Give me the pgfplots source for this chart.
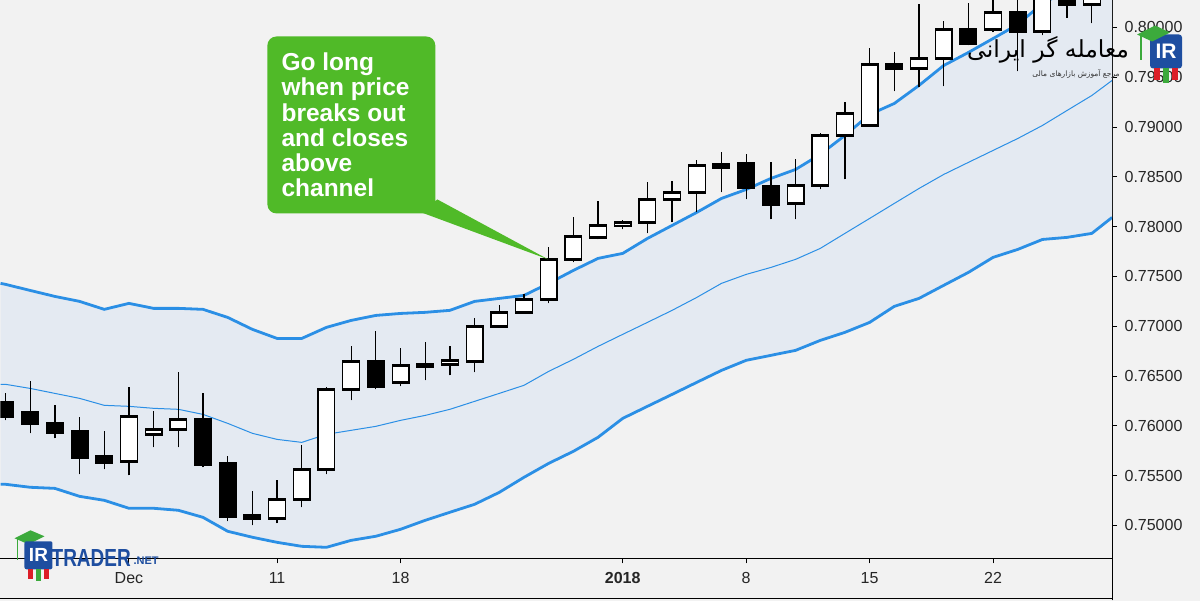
\documentclass[border=0pt]{standalone}
\usepackage{fontspec}
\setmainfont{Liberation Sans}
\newfontfamily\arabicfont[Script=Arabic]{DejaVu Sans}
\TeXXeTstate=1
\usepackage{pgfplots}
\pgfplotsset{compat=1.18}
\usepackage{pgfplotstable}
\usepgfplotslibrary{fillbetween}
\definecolor{bgc}{RGB}{242,242,242}
\definecolor{bandfill}{RGB}{228,234,242}
\definecolor{bandline}{RGB}{43,143,229}
\definecolor{callout}{RGB}{80,186,40}
\definecolor{irblue}{RGB}{30,78,160}
\definecolor{capgreen}{RGB}{60,170,60}
\definecolor{candred}{RGB}{220,30,40}
\pagecolor{bgc}

\pgfplotstableread{
x u m l
-0.2 0.77430 0.76416 0.75412
0 0.77420 0.76416 0.75412
1 0.77359 0.76375 0.75382
2 0.77299 0.76325 0.75371
3 0.77249 0.76275 0.75291
4 0.77169 0.76205 0.75251
5 0.77229 0.76195 0.75171
6 0.77179 0.76175 0.75171
7 0.77179 0.76165 0.75151
8 0.77169 0.76114 0.75080
9 0.77088 0.76024 0.74940
10 0.76968 0.75924 0.74880
11 0.76877 0.75863 0.74829
12 0.76877 0.75833 0.74789
13 0.76988 0.75914 0.74779
14 0.77058 0.75954 0.74849
15 0.77108 0.75994 0.74890
16 0.77128 0.76054 0.74960
17 0.77139 0.76104 0.75050
18 0.77159 0.76165 0.75131
19 0.77249 0.76245 0.75211
20 0.77279 0.76325 0.75331
21 0.77309 0.76406 0.75482
22 0.77430 0.76546 0.75622
23 0.77560 0.76667 0.75743
24 0.77681 0.76797 0.75884
25 0.77731 0.76918 0.76074
26 0.77881 0.77038 0.76195
27 0.78012 0.77159 0.76315
28 0.78143 0.77289 0.76436
29 0.78283 0.77430 0.76556
30 0.78373 0.77520 0.76657
31 0.78484 0.77590 0.76707
32 0.78574 0.77671 0.76757
33 0.78725 0.77781 0.76857
34 0.78916 0.77932 0.76938
35 0.79126 0.78082 0.77038
36 0.79237 0.78233 0.77199
37 0.79418 0.78383 0.77279
38 0.79618 0.78524 0.77410
39 0.79749 0.78645 0.77540
40 0.79889 0.78765 0.77691
41 0.80030 0.78885 0.77771
42 0.80241 0.79016 0.77871
43 0.80371 0.79167 0.77892
44 0.80492 0.79317 0.77932
44.82 0.80572 0.79468 0.78092
}\bands

% candles: index, low, body bottom, body top, high
\pgfplotstableread{
x l lo hi h
0 0.76054 0.76094 0.76235 0.76325
1 0.75924 0.76024 0.76135 0.76446
2 0.75873 0.75934 0.76024 0.76205
3 0.75512 0.75683 0.75944 0.76084
4 0.75562 0.75633 0.75693 0.75944
8 0.75582 0.75612 0.76064 0.76325
9 0.75040 0.75090 0.75622 0.75693
10 0.75000 0.75070 0.75100 0.75341
15 0.76365 0.76396 0.76647 0.76948
17 0.76456 0.76596 0.76616 0.76837
29 0.78343 0.78594 0.78624 0.78745
30 0.78273 0.78394 0.78634 0.78725
31 0.78072 0.78223 0.78404 0.78645
36 0.79357 0.79588 0.79628 0.79749
39 0.79819 0.79839 0.79980 0.80241
41 0.79558 0.79960 0.80151 0.80321
43 0.80100 0.80231 0.80351 0.80422
}\blackc

\pgfplotstableread{
x l lo hi h
5 0.75502 0.75643 0.76094 0.76386
6 0.75783 0.75914 0.75964 0.76145
7 0.75783 0.75964 0.76064 0.76536
11 0.75020 0.75070 0.75261 0.75452
12 0.75181 0.75261 0.75562 0.75803
13 0.75512 0.75562 0.76365 0.76386
14 0.76255 0.76365 0.76647 0.76797
16 0.76396 0.76436 0.76606 0.76777
18 0.76506 0.76616 0.76657 0.76797
19 0.76536 0.76647 0.76998 0.77078
20 0.76988 0.76998 0.77139 0.77209
21 0.77128 0.77139 0.77269 0.77319
22 0.77229 0.77269 0.77671 0.77791
23 0.77641 0.77671 0.77902 0.78092
24 0.77871 0.77892 0.78012 0.78253
25 0.77972 0.78012 0.78042 0.78062
26 0.77932 0.78042 0.78273 0.78444
27 0.78042 0.78273 0.78343 0.78454
28 0.78143 0.78343 0.78614 0.78665
32 0.78072 0.78233 0.78414 0.78675
33 0.78373 0.78414 0.78916 0.78936
34 0.78474 0.78916 0.79136 0.79247
35 0.79006 0.79016 0.79628 0.79789
37 0.79398 0.79588 0.79689 0.80231
38 0.79408 0.79689 0.79980 0.80070
40 0.79950 0.79980 0.80151 0.80321
42 0.79920 0.79960 0.80351 0.80472
44 0.80040 0.80231 0.80321 0.80422
}\whitec

\pgfplotsset{
  ebase/.style={only marks, mark=*, mark size=0pt, mark options={draw=none, fill=none}, forget plot,
    /pgfplots/error bars/y dir=plus, /pgfplots/error bars/y explicit, /pgfplots/error bars/error mark=none},
  wick/.style={ebase, /pgfplots/error bars/error bar style={black, line width=1.3pt}},
  bodyout/.style={ebase, /pgfplots/error bars/error bar style={black, line width=18pt}},
  bodyin/.style={ebase, /pgfplots/error bars/error bar style={white, line width=15.4pt}},
}

\begin{document}
\begin{tikzpicture}
\path (0pt,0pt) rectangle (1200pt,600pt);
\begin{axis}[
  at={(0pt,42pt)}, anchor=south west, scale only axis,
  width=1112pt, height=558pt,
  xmin=-0.2024, xmax=44.82, ymin=0.74669, ymax=0.80271,
  axis x line*=bottom, axis y line*=right,
  axis line style={black, line width=1pt},
  tick align=outside, major tick length=5pt,
  tick style={black, line width=0.9pt},
  xtick={5,11,16,25,30,35,40},
  xticklabels={Dec,11,18,\textbf{2018},8,15,22},
  ytick={0.75,0.755,0.76,0.765,0.77,0.775,0.78,0.785,0.79,0.795,0.80},
  scaled y ticks=false,
  yticklabel style={xshift=4pt, /pgf/number format/.cd, fixed, fixed zerofill, precision=5, assume math mode=true},
  xticklabel style={yshift=-6pt},
  tick label style={font=\fontsize{16}{18}\selectfont, text=black!85},
  clip=true,
]
\addplot[draw=none, name path=U] table[x=x, y=u] {\bands};
\addplot[draw=none, name path=L] table[x=x, y=l] {\bands};
\addplot[fill=bandfill, draw=none] fill between[of=U and L];
\addplot[bandline, line width=1pt] table[x=x, y=m] {\bands};
\addplot[bandline, line width=2.8pt] table[x=x, y=u] {\bands};
\addplot[bandline, line width=2.8pt] table[x=x, y=l] {\bands};

% wicks
\addplot[wick] table[x=x, y=l, y error plus expr=\thisrow{h}-\thisrow{l}] {\blackc};
\addplot[wick] table[x=x, y=l, y error plus expr=\thisrow{h}-\thisrow{l}] {\whitec};
% bodies: black outline, then white inside for up candles
\addplot[bodyout] table[x=x, y expr=\thisrow{lo}-0.00014, y error plus expr=\thisrow{hi}-\thisrow{lo}+0.00028] {\blackc};
\addplot[bodyout] table[x=x, y expr=\thisrow{lo}-0.00014, y error plus expr=\thisrow{hi}-\thisrow{lo}+0.00028] {\whitec};
\addplot[bodyin] table[x=x, y expr=\thisrow{lo}+0.00013, y error plus expr=\thisrow{hi}-\thisrow{lo}-0.00026] {\whitec};
\end{axis}
% pane borders
\draw[black, line width=1pt] (1112pt,0pt) -- (1112pt,42pt);
\draw[black, line width=1pt] (0pt,2pt) -- (1112pt,2pt);
% callout
\fill[callout, rounded corners=9pt] (267pt,387pt) rectangle (435pt,564pt);
\fill[callout] (421pt,388pt) -- (437pt,401pt) -- (548pt,341pt) -- cycle;
\node[anchor=north west, inner sep=0pt, text=white, align=left,
  font=\bfseries\fontsize{24.5}{25.3}\selectfont] at (281pt,548pt)
  {Go long\\when price\\breaks out\\and closes\\above\\channel};
% watermark top right
\node[text=black, font=\arabicfont\fontsize{23.5}{26}\selectfont] at (1048pt,551pt) {\beginR معامله گر ایرانی\endR};
\node[text=black!80, font=\arabicfont\fontsize{7.5}{9}\selectfont] at (1076pt,527pt) {\beginR مرجع آموزش بازارهای مالی\endR};
\fill[irblue, rounded corners=3pt] (1150pt,532pt) rectangle (1182pt,566pt);
\node[text=white, font=\bfseries\fontsize{21}{21}\selectfont] at (1166pt,549pt) {IR};
\fill[candred] (1154pt,520pt) rectangle (1160pt,532pt);
\fill[capgreen] (1163pt,517pt) rectangle (1169pt,532pt);
\fill[candred] (1172pt,520pt) rectangle (1178pt,532pt);
\fill[capgreen] (1137pt,566pt) -- (1155pt,575pt) -- (1170pt,568pt) -- (1152pt,559pt) -- cycle;
\draw[capgreen, line width=1.5pt] (1141pt,565pt) -- (1141pt,540pt);
% watermark bottom left
\fill[capgreen] (14pt,62pt) -- (30pt,70pt) -- (44pt,64pt) -- (28pt,56pt) -- cycle;
\draw[capgreen, line width=1.5pt] (17pt,62pt) -- (17pt,40pt);
\fill[irblue, rounded corners=2pt] (24pt,31pt) rectangle (52pt,59pt);
\node[text=white, font=\bfseries\fontsize{19}{19}\selectfont] at (38pt,45pt) {IR};
\fill[candred] (28pt,21pt) rectangle (33pt,31pt);
\fill[capgreen] (36pt,19pt) rectangle (41pt,31pt);
\fill[candred] (44pt,21pt) rectangle (49pt,31pt);
\node[anchor=south west, inner sep=0pt, text=irblue, font=\bfseries\fontsize{19}{19}\selectfont] at (51pt,34pt) {\scalebox{1}[1.3]{TRADER}};
\node[anchor=south west, inner sep=0pt, text=irblue, font=\bfseries\fontsize{11}{11}\selectfont] at (133pt,36pt) {.NET};
\end{tikzpicture}
\end{document}
